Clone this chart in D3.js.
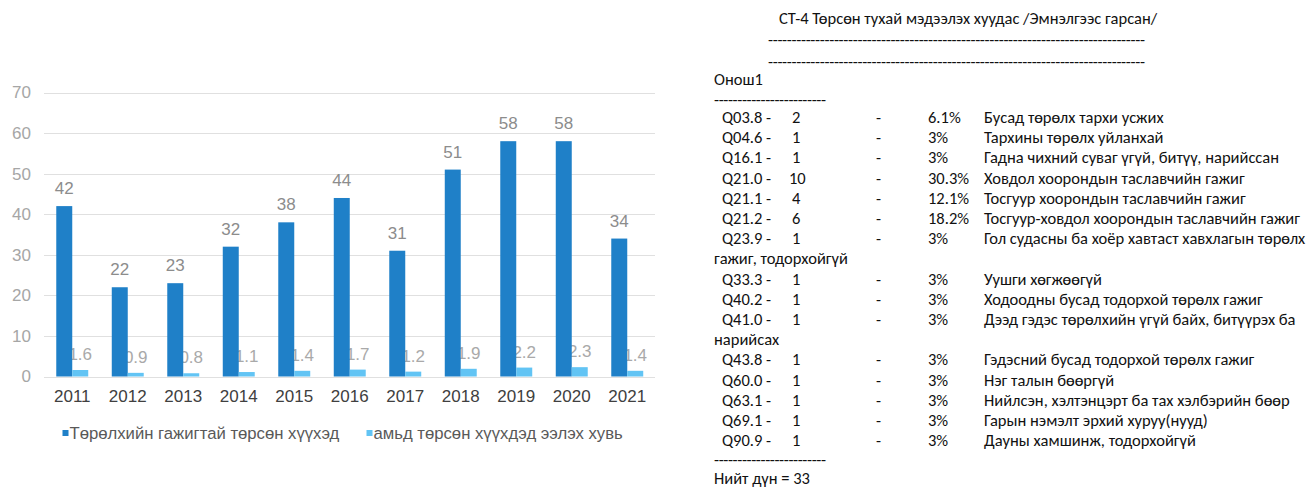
<!DOCTYPE html>
<html>
<head>
<meta charset="utf-8">
<script src="https://cdn.jsdelivr.net/npm/d3@7"></script>
<style>
  body { margin: 0; background: #fff; }
  svg { display: block; }
</style>
</head>
<body>
<script>
// chart data
const years = ["2011","2012","2013","2014","2015","2016","2017","2018","2019","2020","2021"];
const births = [42, 22, 23, 32, 38, 44, 31, 51, 58, 58, 34];
const shares = [1.6, 0.9, 0.8, 1.1, 1.4, 1.7, 1.2, 1.9, 2.2, 2.3, 1.4];
const seriesNames = ["Төрөлхийн гажигтай төрсөн хүүхэд", "амьд төрсөн хүүхдэд ээлэх хувь"];
const yTicks = [0, 10, 20, 30, 40, 50, 60, 70];

// report data
const reportTitle = "СТ-4 Төрсөн тухай мэдээлэх хуудас /Эмнэлгээс гарсан/";
const diagHeader = "Онош1";
const codes = ["Q03.8","Q04.6","Q16.1","Q21.0","Q21.1","Q21.2","Q23.9","Q33.3","Q40.2","Q41.0","Q43.8","Q60.0","Q63.1","Q69.1","Q90.9"];
const counts = [2, 1, 1, 10, 4, 6, 1, 1, 1, 1, 1, 1, 1, 1, 1];
const percents = ["6.1%","3%","3%","30.3%","12.1%","18.2%","3%","3%","3%","3%","3%","3%","3%","3%","3%"];
const descs = [
  "Бусад төрөлх тархи усжих",
  "Тархины төрөлх уйланхай",
  "Гадна чихний суваг үгүй, битүү, нарийссан",
  "Ховдол хоорондын таславчийн гажиг",
  "Тосгуур хоорондын таславчийн гажиг",
  "Тосгуур-ховдол хоорондын таславчийн гажиг",
  "Гол судасны ба хоёр хавтаст хавхлагын төрөлх",
  "Уушги хөгжөөгүй",
  "Ходоодны бусад тодорхой төрөлх гажиг",
  "Дээд гэдэс төрөлхийн үгүй байх, битүүрэх ба",
  "Гэдэсний бусад тодорхой төрөлх гажиг",
  "Нэг талын бөөргүй",
  "Нийлсэн, хэлтэнцэрт ба тах хэлбэрийн бөөр",
  "Гарын нэмэлт эрхий хуруу(нууд)",
  "Дауны хамшинж, тодорхойгүй"
];
const wraps = ["", "", "", "", "", "", "гажиг, тодорхойгүй", "", "", "нарийсах", "", "", "", "", ""];
const totalLine = "Нийт дүн = 33";

const W = 1307, H = 487;
const svg = d3.select("body").append("svg")
  .attr("width", W)
  .attr("height", H);

// ---------- bar chart ----------
const chartFont = "'Liberation Sans', Arial, sans-serif";
const dark = "#1f80c8", light = "#62c4f4";

const x = d3.scaleBand()
  .domain(years)
  .range([44.5, 655])
  .paddingInner(0.424)
  .paddingOuter(0.212);

const x1 = d3.scaleBand()
  .domain([0, 1])
  .range([0, x.bandwidth()]);

const y = d3.scaleLinear()
  .domain([0, 70])
  .range([376.5, 92.5]);

const chart = svg.append("g").style("font-family", chartFont);

// gridlines
chart.append("g")
  .selectAll("line")
  .data(yTicks)
  .join("line")
  .attr("x1", 44)
  .attr("x2", 655)
  .attr("y1", d => Math.round(y(d)) + 0.5)
  .attr("y2", d => Math.round(y(d)) + 0.5)
  .attr("stroke", "#e0e0e0")
  .attr("stroke-width", 1);

// y axis labels
const yAxis = d3.axisLeft(y).tickValues(yTicks).tickSize(0).tickPadding(0);
chart.append("g")
  .attr("transform", "translate(31,0)")
  .call(yAxis)
  .call(g => g.select(".domain").remove())
  .call(g => g.selectAll("text")
    .style("font-size", "17px")
    .style("font-family", chartFont)
    .attr("fill", "#a6a6a6"));

// x axis labels
const xAxis = d3.axisBottom(x).tickSize(0).tickPadding(0);
chart.append("g")
  .attr("transform", "translate(0,390)")
  .call(xAxis)
  .call(g => g.select(".domain").remove())
  .call(g => g.selectAll("text")
    .style("font-size", "17px")
    .style("font-family", chartFont)
    .attr("fill", "#404040"));

const rows = years.map((yr, i) => ({ yr, vals: [births[i], shares[i]] }));

// light labels first so the dark bars sit over them like in the picture
const groups = chart.append("g")
  .selectAll("g")
  .data(rows)
  .join("g")
  .attr("transform", d => `translate(${x(d.yr)},0)`);

groups.append("text")
  .attr("x", x1(1) + x1.bandwidth() / 2)
  .attr("y", d => y(d.vals[1]) - 10)
  .attr("text-anchor", "middle")
  .style("font-size", "17px")
  .attr("fill", "#a9a9a9")
  .text(d => d.vals[1]);

groups.selectAll("rect")
  .data(d => d.vals.map((v, k) => ({ v, k })))
  .join("rect")
  .attr("x", d => x1(d.k))
  .attr("y", d => y(d.v))
  .attr("width", x1.bandwidth())
  .attr("height", d => y(0) - y(d.v))
  .attr("fill", d => d.k === 0 ? dark : light);

groups.append("text")
  .attr("x", x1(0) + x1.bandwidth() / 2)
  .attr("y", d => y(d.vals[0]) - 12)
  .attr("text-anchor", "middle")
  .style("font-size", "17px")
  .attr("fill", "#8c8c8c")
  .text(d => d.vals[0]);

// legend
const legendX = [62.5, 366.5];
const legend = chart.append("g")
  .selectAll("g")
  .data(seriesNames)
  .join("g")
  .attr("transform", (d, i) => `translate(${legendX[i]},430)`);
legend.append("rect")
  .attr("width", 6)
  .attr("height", 6)
  .attr("fill", (d, i) => i === 0 ? dark : light);
legend.append("text")
  .attr("x", 7)
  .attr("y", 9)
  .style("font-size", "16.7px")
  .attr("fill", "#595959")
  .text(d => d);

// ---------- report text ----------
const repFont = "Carlito, 'Liberation Sans', sans-serif";
const rep = svg.append("g")
  .style("font-family", repFont)
  .style("font-size", "16.5px")
  .attr("fill", "#111");

rep.append("text").attr("x", 779).attr("y", 24).text(reportTitle);

function dashes(g, x0, x2, yy, n) {
  g.append("text")
    .attr("x", x0)
    .attr("y", yy)
    .attr("textLength", x2 - x0)
    .attr("lengthAdjust", "spacing")
    .text("-".repeat(n));
}
dashes(rep, 768, 1145, 45, 80);
dashes(rep, 768, 1145, 67, 80);
rep.append("text").attr("x", 714).attr("y", 85).text(diagHeader);
dashes(rep, 714, 826, 105, 24);

const rowStep = 20.2;
let line = 0;
const firstBase = 123;
codes.forEach((c, i) => {
  const yy = firstBase + line * rowStep;
  const r = rep.append("g");
  r.append("text").attr("x", 722).attr("y", yy).text(c);
  r.append("text").attr("x", 766).attr("y", yy).text("-");
  r.append("text").attr("x", counts[i] >= 10 ? 789 : 792).attr("y", yy).text(counts[i]);
  r.append("text").attr("x", 876).attr("y", yy).text("-");
  r.append("text").attr("x", 928).attr("y", yy).text(percents[i]);
  r.append("text").attr("x", 984).attr("y", yy).text(descs[i]);
  line++;
  if (wraps[i]) {
    rep.append("text").attr("x", 714).attr("y", firstBase + line * rowStep).text(wraps[i]);
    line++;
  }
});
dashes(rep, 714, 826, firstBase + line * rowStep - 1, 24);
rep.append("text").attr("x", 714).attr("y", 484).text(totalLine);
</script>
</body>
</html>
